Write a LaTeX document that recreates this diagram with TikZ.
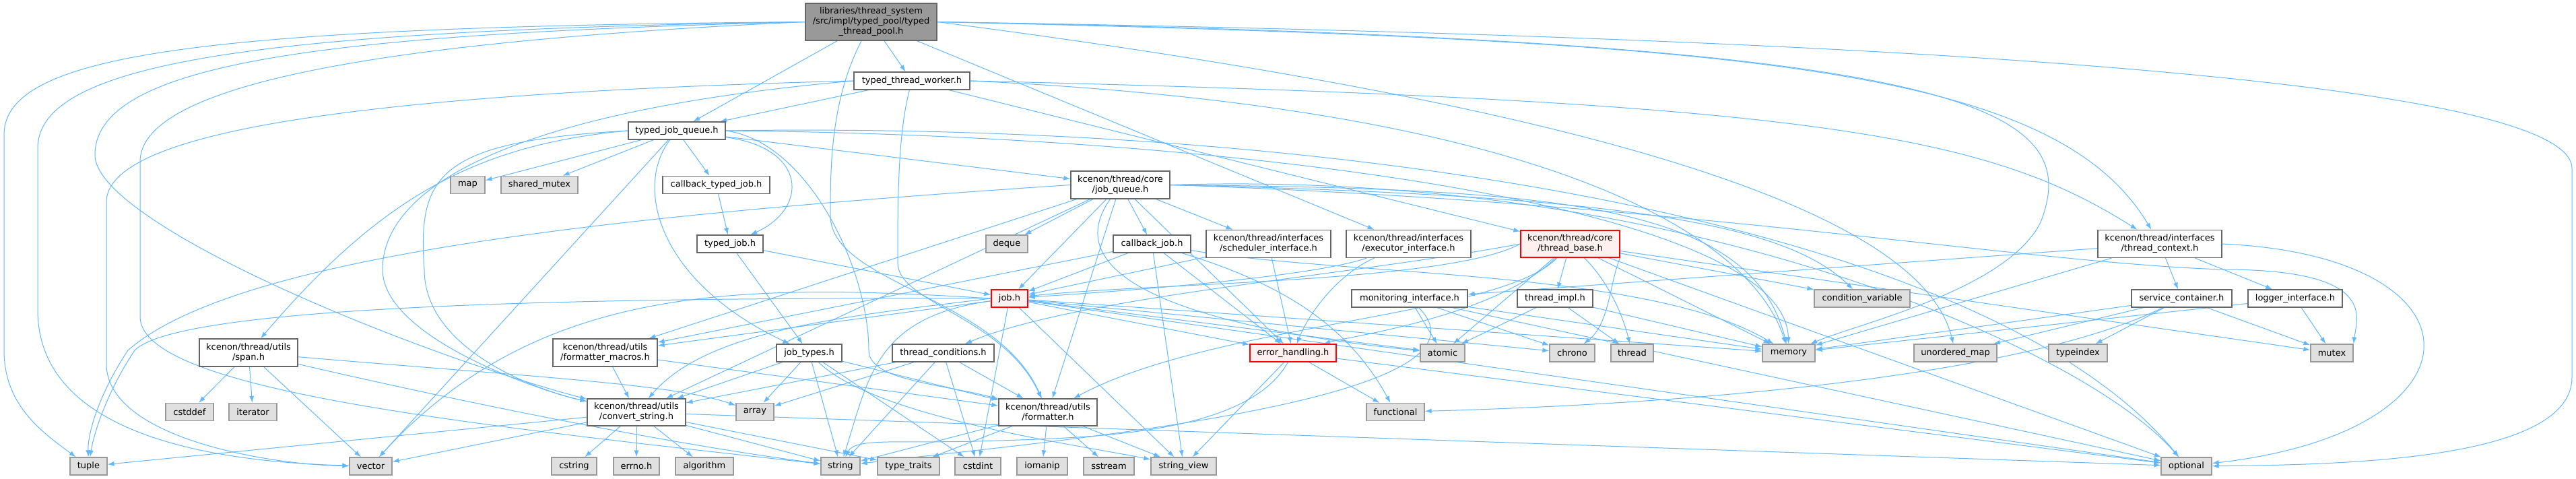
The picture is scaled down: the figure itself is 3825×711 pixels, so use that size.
\documentclass[tikz,border=0pt]{standalone}
\usepackage{fontspec}
\setmainfont{DejaVu Sans}
\usepackage{tikz}
\usetikzlibrary{arrows.meta,backgrounds}
\definecolor{edgeblue}{HTML}{63B8FF}
\definecolor{boxline}{HTML}{666666}
\definecolor{sysline}{HTML}{999999}
\definecolor{sysfill}{HTML}{E0E0E0}
\definecolor{rootfill}{HTML}{999999}
\definecolor{hotfill}{HTML}{FFF0F0}

\begin{document}
\begin{tikzpicture}[x=1pt, y=-1pt,
  hdr/.style={draw=boxline, fill=white, line width=1.2pt, inner sep=0pt, align=center,
    font=\fontsize{13}{15}\selectfont, minimum height=26pt},
  hdrtwo/.style={hdr, minimum height=41pt},
  syshdr/.style={hdr, draw=sysline, fill=sysfill},
  hothdr/.style={hdr, draw=red, fill=hotfill},
  roothdr/.style={hdr, fill=rootfill, minimum height=55pt},
  dep/.style={draw=edgeblue, line width=1pt, -{Latex[length=10pt,width=7pt]}},
]
\useasboundingbox (0,0) rectangle (3825,711);
% top levels
\node[roothdr, minimum width=195pt] (root) at (1293.5,32.5) {libraries/thread\_system\\/src/impl/typed\_pool/typed\\\_thread\_pool.h};
\node[hdr, minimum width=172pt] (worker) at (1354,120) {typed\_thread\_worker.h};
\node[hdr, minimum width=144pt] (tjqueue) at (1005,194) {typed\_job\_queue.h};
\node[syshdr, minimum width=51pt] (map) at (694.5,274.5) {map};
\node[syshdr, minimum width=114pt] (shmutex) at (801,274.5) {shared\_mutex};
\node[hdr, minimum width=159pt] (cbtypedjob) at (1063.5,274.5) {callback\_typed\_job.h};
\node[hdrtwo, minimum width=147pt] (jobqueue) at (1663.5,274.5) {kcenon/thread/core\\/job\_queue.h};
\node[hdr, minimum width=98pt] (typedjob) at (1084,362) {typed\_job.h};
\node[syshdr, minimum width=62pt] (deque) at (1495,362) {deque};
\node[hdr, minimum width=115pt] (cbjob) at (1710.5,362) {callback\_job.h};
\node[hdrtwo, minimum width=185pt] (sched) at (1883.5,362) {kcenon/thread/interfaces\\/scheduler\_interface.h};
\node[hdrtwo, minimum width=185pt] (exec) at (2091.5,362) {kcenon/thread/interfaces\\/executor\_interface.h};
\node[hothdr, minimum width=147pt, minimum height=40pt] (tbase) at (2331.5,362) {kcenon/thread/core\\/thread\_base.h};
\node[hdrtwo, minimum width=184pt] (tctx) at (3207,362) {kcenon/thread/interfaces\\/thread\_context.h};
% middle
\node[hothdr, minimum width=54pt] (job) at (1499,443) {job.h};
\node[hdr, minimum width=172pt] (monitor) at (2093,443) {monitoring\_interface.h};
\node[hdr, minimum width=112pt] (timpl) at (2309,443) {thread\_impl.h};
\node[syshdr, minimum width=142pt] (condvar) at (2765,443) {condition\_variable};
\node[hdr, minimum width=149pt] (svc) at (3239.5,443) {service\_container.h};
\node[hdr, minimum width=140pt] (logger) at (3408,443) {logger\_interface.h};
\node[hdrtwo, minimum width=146pt] (span) at (369,523.5) {kcenon/thread/utils\\/span.h};
\node[hdrtwo, minimum width=155pt] (fmtmacros) at (898.5,523.5) {kcenon/thread/utils\\/formatter\_macros.h};
\node[hdr, minimum width=97pt] (jobtypes) at (1201.5,524) {job\_types.h};
\node[hdr, minimum width=151pt] (tcond) at (1400.5,524) {thread\_conditions.h};
\node[hothdr, minimum width=128pt] (errh) at (1920,524) {error\_handling.h};
\node[syshdr, minimum width=66pt] (atomic) at (2142,524) {atomic};
\node[syshdr, minimum width=67pt] (chrono) at (2334.5,524) {chrono};
\node[syshdr, minimum width=63pt] (thread) at (2423.5,524) {thread};
\node[syshdr, minimum width=78pt] (memory) at (2656,524) {memory};
\node[syshdr, minimum width=123pt] (umap) at (2903.5,524) {unordered\_map};
\node[syshdr, minimum width=87pt] (typeindex) at (3085.5,524) {typeindex};
\node[syshdr, minimum width=63pt] (mutex) at (3462.5,524) {mutex};
% lower levels
\node[syshdr, minimum width=71pt] (cstddef) at (281.5,611.5) {cstddef};
\node[syshdr, minimum width=71pt] (iterator) at (375.5,611.5) {iterator};
\node[hdrtwo, minimum width=146pt, minimum height=40pt] (convstr) at (945,612) {kcenon/thread/utils\\/convert\_string.h};
\node[syshdr, minimum width=56pt] (array) at (1121,611.5) {array};
\node[hdrtwo, minimum width=146pt, minimum height=40pt] (formatter) at (1556,612) {kcenon/thread/utils\\/formatter.h};
\node[syshdr, minimum width=86pt] (functional) at (2072,611.5) {functional};
\node[syshdr, minimum width=55pt] (tuple) at (131.5,692) {tuple};
\node[syshdr, minimum width=63pt] (vector) at (550.5,692) {vector};
\node[syshdr, minimum width=67pt] (cstring) at (852.5,692) {cstring};
\node[syshdr, minimum width=68pt] (errno) at (945,692) {errno.h};
\node[syshdr, minimum width=86pt] (algorithm) at (1046,692) {algorithm};
\node[syshdr, minimum width=58pt] (string) at (1248,692) {string};
\node[syshdr, minimum width=92pt] (typetraits) at (1349,692) {type\_traits};
\node[syshdr, minimum width=68pt] (cstdint) at (1452,692) {cstdint};
\node[syshdr, minimum width=75pt] (iomanip) at (1547.5,692) {iomanip};
\node[syshdr, minimum width=75pt] (sstream) at (1646.5,692) {sstream};
\node[syshdr, minimum width=97pt] (strview) at (1757.5,692) {string\_view};
\node[syshdr, minimum width=75pt] (optional) at (3246.5,692) {optional};

\begin{scope}[on background layer]
\fill[white] (0,0) rectangle (3825,711);
% root
\foreach \t in {worker,tjqueue,exec} \draw[dep] (root) -- (\t);
\draw[dep] (root) .. controls (1233,150) and (1233,250) .. (1233,320) .. controls (1233,420) and (1480,440) .. (formatter);
\draw[dep] (root.east) .. controls (2300,150) and (2850,300) .. (umap);
\draw[dep] (root.west) .. controls (300,40) and (6,80) .. (6,200) -- (6,520) .. controls (6,600) and (60,640) .. (tuple);
\draw[dep] (root.west) .. controls (400,45) and (56,90) .. (56,220) -- (56,460) .. controls (56,640) and (300,685) .. (vector);
\draw[dep] (root.west) .. controls (500,50) and (141,90) .. (141,230) .. controls (141,330) and (600,520) .. (convstr);
\draw[dep] (root.west) .. controls (600,60) and (208,120) .. (208,240) -- (208,470) .. controls (208,580) and (700,630) .. (string);
\draw[dep] (root.east) .. controls (2600,60) and (3050,100) .. (tctx);
\draw[dep] (root.east) .. controls (2900,60) and (3100,150) .. (3030,330) .. controls (2980,430) and (2760,480) .. (memory);
\draw[dep] (root.east) .. controls (2500,50) and (3819,100) .. (3819,250) -- (3819,560) .. controls (3819,680) and (3500,690) .. (optional);
% typed_thread_worker.h
\foreach \t in {tjqueue,tbase} \draw[dep] (worker) -- (\t);
\draw[dep] (worker) .. controls (1333,200) and (1333,300) .. (1333,390) .. controls (1333,450) and (1490,470) .. (formatter);
\draw[dep] (worker.east) .. controls (2300,160) and (2600,350) .. (memory);
\draw[dep] (worker.east) .. controls (2700,150) and (2950,200) .. (tctx);
\draw[dep] (worker.west) .. controls (500,140) and (158,200) .. (158,300) -- (158,540) .. controls (158,650) and (400,690) .. (vector);
\draw[dep] (worker.west) .. controls (700,170) and (568,300) .. (568,400) .. controls (568,500) and (800,580) .. (convstr);
% typed_job_queue.h
\foreach \t in {map,shmutex,cbtypedjob,jobqueue,vector} \draw[dep] (tjqueue) -- (\t);
\draw[dep] (tjqueue) .. controls (1200,220) and (1200,310) .. (typedjob);
\draw[dep] (tjqueue.west) .. controls (700,215) and (560,300) .. (span);
\draw[dep] (tjqueue.west) .. controls (650,210) and (620,260) .. (630,400) .. controls (630,520) and (800,580) .. (convstr);
\draw[dep] (tjqueue) .. controls (940,280) and (980,420) .. (jobtypes);
\draw[dep] (tjqueue.east) .. controls (1200,210) and (1290,400) .. (1290,520) .. controls (1290,565) and (1400,570) .. (formatter);
\draw[dep] (tjqueue.east) .. controls (1800,200) and (2650,300) .. (memory);
\draw[dep] (tjqueue.east) .. controls (2000,180) and (2950,330) .. (optional);
\draw[dep] (cbtypedjob) -- (typedjob);
\foreach \t in {jobtypes,job} \draw[dep] (typedjob) -- (\t);
% job_queue.h
\foreach \t in {deque,cbjob,sched,job,errh,fmtmacros,convstr,formatter} \draw[dep] (jobqueue) -- (\t);
\draw[dep] (jobqueue) .. controls (1560,420) and (1800,490) .. (atomic);
\draw[dep] (jobqueue.east) .. controls (2300,280) and (2600,300) .. (memory);
\draw[dep] (jobqueue.east) .. controls (2400,290) and (2650,330) .. (condvar);
\draw[dep] (jobqueue.east) .. controls (2500,300) and (3000,390) .. (3300,400) .. controls (3530,400) and (3500,470) .. (mutex.north east);
\draw[dep] (jobqueue.east) .. controls (2500,250) and (3100,520) .. (optional);
\draw[dep] (jobqueue.west) .. controls (900,320) and (350,380) .. (190,520) .. controls (150,580) and (130,640) .. (tuple);
% callback_job.h and the interfaces
\foreach \t in {job,errh,fmtmacros,strview} \draw[dep] (cbjob) -- (\t);
\draw[dep] (cbjob) .. controls (1900,420) and (2000,480) .. (functional);
\draw[dep] (cbjob) .. controls (2000,410) and (2450,400) .. (memory);
\foreach \t in {job,errh} \draw[dep] (sched) -- (\t);
\draw[dep] (exec) .. controls (1950,410) and (1700,430) .. (job);
\draw[dep] (exec) .. controls (2000,400) and (1950,450) .. (errh);
% thread_base.h
\foreach \t in {timpl,atomic,condvar,mutex,memory,optional} \draw[dep] (tbase) -- (\t);
\draw[dep] (tbase.west) .. controls (2150,420) and (1700,420) .. (job);
\draw[dep] (tbase.west) .. controls (2000,410) and (1600,440) .. (tcond);
\draw[dep] (tbase) .. controls (2220,470) and (2000,500) .. (errh);
\draw[dep] (tbase) .. controls (2230,470) and (1800,480) .. (formatter);
\draw[dep] (tbase.south east) .. controls (2390,420) and (2390,480) .. (chrono);
\draw[dep] (tbase) .. controls (2390,420) and (2410,470) .. (thread);
% thread_context.h
\foreach \t in {svc,logger,monitor,memory} \draw[dep] (tctx) -- (\t);
\draw[dep] (tctx.east) .. controls (3700,380) and (3700,640) .. (optional);
\foreach \t in {atomic,chrono,memory,optional} \draw[dep] (monitor) -- (\t);
\draw[dep] (monitor) .. controls (2250,600) and (1500,660) .. (string);
\foreach \t in {atomic,thread,memory} \draw[dep] (timpl) -- (\t);
\foreach \t in {formatter,convstr,array,string,cstdint} \draw[dep] (tcond) -- (\t);
% job.h
\foreach \t in {errh,fmtmacros,memory,atomic,chrono,strview,optional,cstdint} \draw[dep] (job) -- (\t);
\draw[dep] (job.west) .. controls (1250,470) and (1050,490) .. (convstr);
\draw[dep] (job.west) .. controls (1100,420) and (800,420) .. (vector);
\draw[dep] (job) .. controls (1300,470) and (1290,560) .. (string);
\draw[dep] (job.west) .. controls (600,440) and (250,470) .. (200,520) .. controls (160,580) and (140,640) .. (tuple);
\foreach \t in {convstr,formatter,array,string,cstdint} \draw[dep] (jobtypes) -- (\t);
\draw[dep] (jobtypes) .. controls (1300,620) and (1600,660) .. (strview);
\foreach \t in {convstr,formatter} \draw[dep] (fmtmacros) -- (\t);
% utils
\foreach \t in {cstddef,iterator,vector} \draw[dep] (span) -- (\t);
\draw[dep] (span) .. controls (800,560) and (1000,570) .. (array);
\draw[dep] (span) .. controls (700,600) and (1000,660) .. (string);
\foreach \t in {functional,strview,optional} \draw[dep] (errh) -- (\t);
\draw[dep] (errh) .. controls (1850,650) and (1600,650) .. (1450,655) .. controls (1330,658) and (1270,650) .. (string);
\foreach \t in {string,typetraits,iomanip,sstream,strview} \draw[dep] (formatter) -- (\t);
\foreach \t in {tuple,vector,cstring,errno,algorithm,string,typetraits,optional} \draw[dep] (convstr) -- (\t);
% interfaces
\foreach \t in {memory,umap,typeindex,mutex} \draw[dep] (svc) -- (\t);
\draw[dep] (svc) .. controls (3000,560) and (2500,600) .. (functional);
\foreach \t in {memory,mutex} \draw[dep] (logger) -- (\t);
\end{scope}
\end{tikzpicture}
\end{document}
